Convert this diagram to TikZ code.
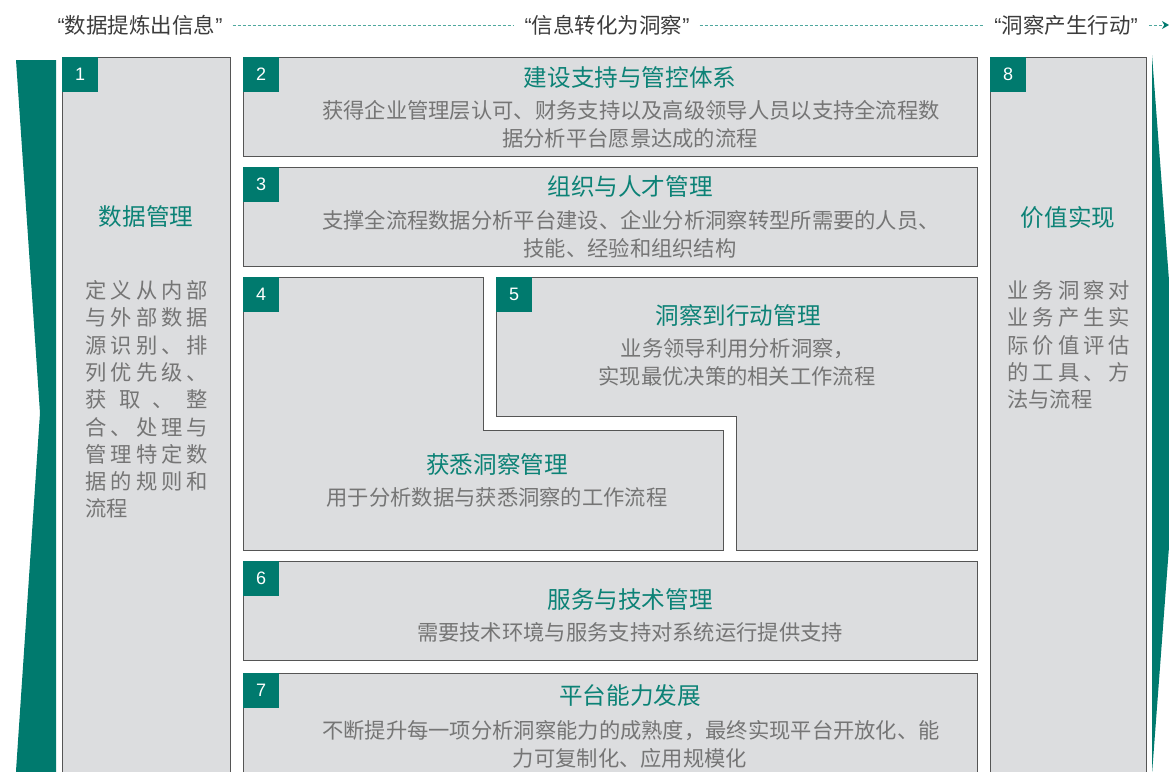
\documentclass[tikz,border=0pt]{standalone}
\usepackage{fontspec}
\setmainfont{Noto Sans CJK SC}
\newfontfamily\digitfont{Liberation Sans}
\usetikzlibrary{arrows.meta}
\definecolor{teal1}{HTML}{007A6E}
\definecolor{teal2}{HTML}{0C8276}
\definecolor{dashc}{HTML}{4FA89E}
\definecolor{boxfill}{HTML}{DCDDDF}
\definecolor{boxline}{HTML}{555555}
\definecolor{bodyc}{HTML}{757575}
\definecolor{headc}{HTML}{3C3C3C}
\tikzset{
  boxshape/.style={fill=boxfill, draw=boxline, line width=1pt},
  tag/.style={fill=teal1, text=white, inner sep=0pt, minimum width=36pt, minimum height=35pt, anchor=north west, font=\digitfont\fontsize{18}{18}\selectfont},
  ttl/.style={text=teal2, inner sep=0pt, text height=20.7pt, text depth=2.8pt, font=\fontsize{23.6}{24}\selectfont},
  bdy/.style={text=bodyc, inner sep=0pt, text height=18.7pt, text depth=2.6pt, font=\fontsize{21.3}{22}\selectfont},
  hdr/.style={text=headc, inner sep=0pt, text height=18.9pt, text depth=2.6pt, font=\fontsize{21.5}{22}\selectfont},
  dotline/.style={draw=dashc, line width=0.9pt, dash pattern=on 3pt off 2pt},
}
\begin{document}
\begin{tikzpicture}[x=1pt,y=-1pt]
\useasboundingbox (0,0) rectangle (1169,771);
\clip (0,0) rectangle (1169,771);
% green arrow pieces
\fill[teal1] (16,60) -- (56,60) -- (56,790) -- (16,790) -- (16,771) -- (40,413) -- cycle;
\fill[teal1] (1152,55) -- (1179,413) -- (1152,774) -- cycle;

% boxes
\draw[boxshape] (62,57) rectangle (230,790);
\draw[boxshape] (243,57) rectangle (977,156);
\draw[boxshape] (243,167) rectangle (977,266);
\draw[boxshape] (243,277) -- (483,277) -- (483,430) -- (723,430) -- (723,550) -- (243,550) -- cycle;
\draw[boxshape] (496,277) -- (977,277) -- (977,550) -- (736,550) -- (736,416) -- (496,416) -- cycle;
\draw[boxshape] (243,561) rectangle (977,660);
\draw[boxshape] (243,673) rectangle (977,790);
\draw[boxshape] (990,57) rectangle (1146,790);

% tags
\node[tag] (t1) at (62,57) {1};
\node[tag] (t2) at (243,57) {2};
\node[tag] (t3) at (243,167) {3};
\node[tag] (t4) at (243,277) {4};
\node[tag] (t5) at (496,277) {5};
\node[tag] (t6) at (243,561) {6};
\node[tag] (t7) at (243,673) {7};
\node[tag] (t8) at (990,57) {8};

% header
\node[hdr] (h1) at (140,25) {{\digitfont “}数据提炼出信息{\digitfont ”}};
\node[hdr] (h2) at (607,25) {{\digitfont “}信息转化为洞察{\digitfont ”}};
\node[hdr] (h3) at (1066,25) {{\digitfont “}洞察产生行动{\digitfont ”}};
\coordinate (hend) at (1169,25);
\draw[dotline] ([xshift=10pt]h1.east) -- ([xshift=-10pt]h2.west);
\draw[dotline] ([xshift=10pt]h2.east) -- ([xshift=-10pt]h3.west);
\draw[dotline, -{Stealth[length=7pt,width=8pt,color=teal1]}] ([xshift=11pt]h3.east) -- (hend);

% box 1
\node[ttl] (b1t) at (146,217) {数据管理};
\node[bdy, anchor=west] (b1l1) at (85,290) {\makebox[123pt][s]{定\hfil 义\hfil 从\hfil 内\hfil 部}};
\node[bdy, anchor=west] (b1l2) at (85,317) {\makebox[123pt][s]{与\hfil 外\hfil 部\hfil 数\hfil 据}};
\node[bdy, anchor=west] (b1l3) at (85,345) {\makebox[123pt][s]{源\hfil 识\hfil 别\hfil 、\hfil 排}};
\node[bdy, anchor=west] (b1l4) at (85,372) {\makebox[123pt][s]{列\hfil 优\hfil 先\hfil 级\hfil 、}};
\node[bdy, anchor=west] (b1l5) at (85,399) {\makebox[123pt][s]{获\hfil 取\hfil 、\hfil 整}};
\node[bdy, anchor=west] (b1l6) at (85,427) {\makebox[123pt][s]{合\hfil 、\hfil 处\hfil 理\hfil 与}};
\node[bdy, anchor=west] (b1l7) at (85,454) {\makebox[123pt][s]{管\hfil 理\hfil 特\hfil 定\hfil 数}};
\node[bdy, anchor=west] (b1l8) at (85,481) {\makebox[123pt][s]{据\hfil 的\hfil 规\hfil 则\hfil 和}};
\node[bdy, anchor=west] (b1l9) at (85,508) {流程};

% box 8
\node[ttl] (b8t) at (1068,218) {价值实现};
\node[bdy, anchor=west] (b8l1) at (1007,290) {\makebox[123pt][s]{业\hfil 务\hfil 洞\hfil 察\hfil 对}};
\node[bdy, anchor=west] (b8l2) at (1007,317) {\makebox[123pt][s]{业\hfil 务\hfil 产\hfil 生\hfil 实}};
\node[bdy, anchor=west] (b8l3) at (1007,345) {\makebox[123pt][s]{际\hfil 价\hfil 值\hfil 评\hfil 估}};
\node[bdy, anchor=west] (b8l4) at (1007,372) {\makebox[123pt][s]{的\hfil 工\hfil 具\hfil 、\hfil 方}};
\node[bdy, anchor=west] (b8l5) at (1007,399) {法与流程};

% box 2
\node[ttl] (b2t) at (630,78) {建设支持与管控体系};
\node[bdy] (b2l1) at (631,110) {获得企业管理层认可、财务支持以及高级领导人员以支持全流程数};
\node[bdy] (b2l2) at (630,138) {据分析平台愿景达成的流程};

% box 3
\node[ttl] (b3t) at (630,187) {组织与人才管理};
\node[bdy] (b3l1) at (631,220) {支撑全流程数据分析平台建设、企业分析洞察转型所需要的人员、};
\node[bdy] (b3l2) at (630,248) {技能、经验和组织结构};

% box 4
\node[ttl] (b4t) at (497,465) {获悉洞察管理};
\node[bdy] (b4l1) at (497,497) {用于分析数据与获悉洞察的工作流程};

% box 5
\node[ttl] (b5t) at (738,316) {洞察到行动管理};
\node[bdy] (b5l1) at (738,348) {业务领导利用分析洞察，};
\node[bdy] (b5l2) at (737,376) {实现最优决策的相关工作流程};

% box 6
\node[ttl] (b6t) at (630,600) {服务与技术管理};
\node[bdy] (b6l1) at (630,632) {需要技术环境与服务支持对系统运行提供支持};

% box 7
\node[ttl] (b7t) at (630,696) {平台能力发展};
\node[bdy] (b7l1) at (631,730) {不断提升每一项分析洞察能力的成熟度，最终实现平台开放化、能};
\node[bdy] (b7l2) at (630,758) {力可复制化、应用规模化};
\end{tikzpicture}
\end{document}
